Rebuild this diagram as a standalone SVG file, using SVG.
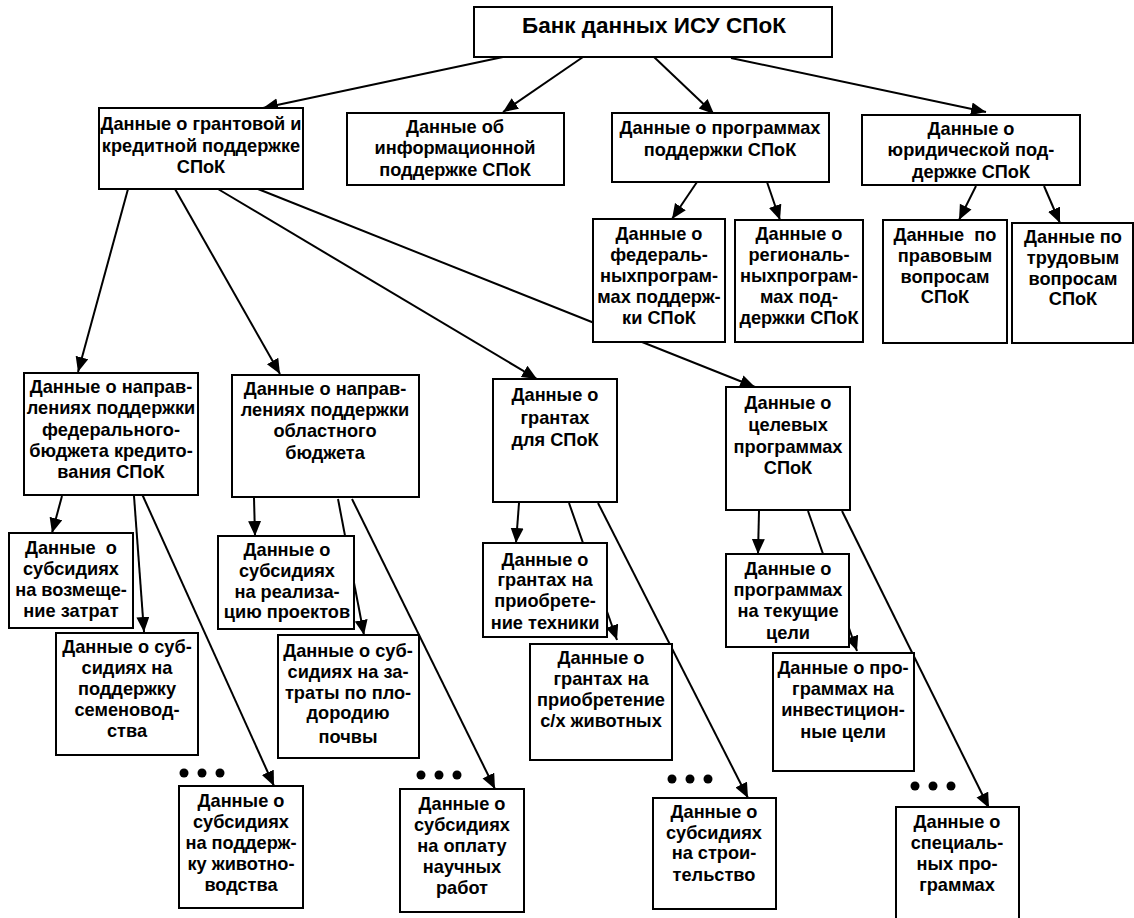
<svg xmlns="http://www.w3.org/2000/svg" width="1134" height="918" viewBox="0 0 1134 918">
<style>
.b{fill:#fff;stroke:#000;stroke-width:2}
.t{font-family:"Liberation Sans",Arial,sans-serif;font-weight:bold;font-size:18.2px;text-anchor:middle;fill:#000}
.h{font-size:22.5px}
.c{stroke:#000;stroke-width:2;fill:none;marker-end:url(#ah)}
.d{fill:#000}
</style>
<defs>
<marker id="ah" markerUnits="userSpaceOnUse" markerWidth="16" markerHeight="14" refX="15" refY="6.5" orient="auto">
<path d="M0,0 L15,6.5 L0,13 z" fill="#000"/>
</marker>
</defs>
<rect width="1134" height="918" fill="#fff"/>
<g id="connectors">
<line class="c" x1="503" y1="57" x2="263" y2="108"/>
<line class="c" x1="583" y1="57" x2="503" y2="112"/>
<line class="c" x1="654" y1="57" x2="714" y2="114"/>
<line class="c" x1="731" y1="58" x2="986" y2="112"/>
<line class="c" x1="697" y1="182" x2="672" y2="219"/>
<line class="c" x1="767" y1="182" x2="780" y2="220"/>
<line class="c" x1="976" y1="186" x2="959" y2="220"/>
<line class="c" x1="1044" y1="186" x2="1060" y2="223"/>
<line class="c" x1="128" y1="189" x2="78" y2="372"/>
<line class="c" x1="175" y1="189" x2="280" y2="374"/>
<line class="c" x1="218" y1="189" x2="537" y2="379"/>
<line class="c" x1="258" y1="189" x2="755" y2="387"/>
<line class="c" x1="62" y1="496" x2="52" y2="533"/>
<line class="c" x1="134" y1="496" x2="144" y2="632"/>
<line class="c" x1="142" y1="494" x2="274" y2="786"/>
<line class="c" x1="254" y1="498" x2="255" y2="536"/>
<line class="c" x1="338" y1="499" x2="364" y2="635"/>
<line class="c" x1="352" y1="499" x2="495" y2="789"/>
<line class="c" x1="519" y1="503" x2="516" y2="543"/>
<line class="c" x1="569" y1="503" x2="617" y2="640"/>
<line class="c" x1="598" y1="503" x2="748" y2="798"/>
<line class="c" x1="759" y1="511" x2="758" y2="554"/>
<line class="c" x1="808" y1="511" x2="857" y2="651"/>
<line class="c" x1="842" y1="511" x2="989" y2="808"/>
</g>
<g id="n_top"><rect class="b" x="474" y="7" width="358" height="50"/><text class="t h" x="654" y="33">Банк данных ИСУ СПоК</text></g>
<g id="n_gram"><rect class="b" x="99" y="108" width="204" height="81"/><text class="t"><tspan x="201" y="130">Данные о грантовой и</tspan><tspan x="201" y="152">кредитной поддержке</tspan><tspan x="201" y="173">СПоК</tspan></text></g>
<g id="n_info"><rect class="b" x="347" y="113" width="217" height="72"/><text class="t"><tspan x="455" y="133">Данные об</tspan><tspan x="455" y="154">информационной</tspan><tspan x="455" y="176">поддержке СПоК</tspan></text></g>
<g id="n_prog"><rect class="b" x="612" y="113" width="217" height="69"/><text class="t"><tspan x="720" y="134">Данные о программах</tspan><tspan x="720" y="156">поддержки СПоК</tspan></text></g>
<g id="n_jur"><rect class="b" x="862" y="115" width="218" height="70"/><text class="t"><tspan x="971" y="135">Данные о</tspan><tspan x="971" y="156">юридической под-</tspan><tspan x="971" y="178">держке СПоК</tspan></text></g>
<g id="n_fedprog"><rect class="b" x="593" y="219" width="132" height="123"/><text class="t"><tspan x="659" y="240">Данные о</tspan><tspan x="659" y="261">федераль-</tspan><tspan x="659" y="282">ныхпрограм-</tspan><tspan x="659" y="303">мах поддерж-</tspan><tspan x="659" y="324">ки СПоК</tspan></text></g>
<g id="n_regprog"><rect class="b" x="735" y="220" width="128" height="122"/><text class="t"><tspan x="799" y="240">Данные о</tspan><tspan x="799" y="261">региональ-</tspan><tspan x="799" y="282">ныхпрограм-</tspan><tspan x="799" y="303">мах под-</tspan><tspan x="799" y="324">держки СПоК</tspan></text></g>
<g id="n_law"><rect class="b" x="883" y="220" width="124" height="123"/><text class="t" style="white-space:pre"><tspan x="945" y="241">Данные  по</tspan><tspan x="945" y="262">правовым</tspan><tspan x="945" y="283">вопросам</tspan><tspan x="945" y="303">СПоК</tspan></text></g>
<g id="n_labor"><rect class="b" x="1012" y="223" width="121" height="120"/><text class="t"><tspan x="1073" y="243">Данные по</tspan><tspan x="1073" y="264">трудовым</tspan><tspan x="1073" y="285">вопросам</tspan><tspan x="1073" y="305">СПоК</tspan></text></g>
<g id="n_fedbud"><rect class="b" x="24" y="373" width="174" height="122"/><text class="t"><tspan x="111" y="393">Данные о направ-</tspan><tspan x="111" y="414">лениях поддержки</tspan><tspan x="111" y="436">федерального-</tspan><tspan x="111" y="457">бюджета кредито-</tspan><tspan x="111" y="478">вания СПоК</tspan></text></g>
<g id="n_obbud"><rect class="b" x="232" y="375" width="187" height="122"/><text class="t"><tspan x="325" y="395">Данные о направ-</tspan><tspan x="325" y="416">лениях поддержки</tspan><tspan x="325" y="437">областного</tspan><tspan x="325" y="459">бюджета</tspan></text></g>
<g id="n_grants"><rect class="b" x="493" y="379" width="124" height="123"/><text class="t"><tspan x="555" y="401">Данные о</tspan><tspan x="555" y="424">грантах</tspan><tspan x="555" y="446">для СПоК</tspan></text></g>
<g id="n_target"><rect class="b" x="726" y="387" width="124" height="123"/><text class="t"><tspan x="788" y="409">Данные о</tspan><tspan x="788" y="431">целевых</tspan><tspan x="788" y="453">программах</tspan><tspan x="788" y="474">СПоК</tspan></text></g>
<g id="n_subs1"><rect class="b" x="9" y="533" width="124" height="95"/><text class="t" style="white-space:pre"><tspan x="71" y="554">Данные  о</tspan><tspan x="71" y="575">субсидиях</tspan><tspan x="71" y="596">на возмеще-</tspan><tspan x="71" y="617">ние затрат</tspan></text></g>
<g id="n_realiz"><rect class="b" x="218" y="536" width="136" height="93"/><text class="t"><tspan x="287" y="556">Данные о</tspan><tspan x="287" y="577">субсидиях</tspan><tspan x="287" y="598">на реализа-</tspan><tspan x="287" y="618">цию проектов</tspan></text></g>
<g id="n_tech"><rect class="b" x="483" y="543" width="124" height="94"/><text class="t"><tspan x="545" y="566">Данные о</tspan><tspan x="545" y="586">грантах на</tspan><tspan x="545" y="607">приобрете-</tspan><tspan x="545" y="629">ние техники</tspan></text></g>
<g id="n_current"><rect class="b" x="726" y="554" width="123" height="93"/><text class="t"><tspan x="788" y="575">Данные о</tspan><tspan x="788" y="596">программах</tspan><tspan x="788" y="617">на текущие</tspan><tspan x="788" y="639">цели</tspan></text></g>
<g id="n_seed"><rect class="b" x="56" y="633" width="142" height="122"/><text class="t"><tspan x="127" y="653">Данные о суб-</tspan><tspan x="127" y="674">сидиях на</tspan><tspan x="127" y="695">поддержку</tspan><tspan x="127" y="716">семеновод-</tspan><tspan x="127" y="737">ства</tspan></text></g>
<g id="n_plodor"><rect class="b" x="278" y="635" width="141" height="123"/><text class="t"><tspan x="348" y="657">Данные о суб-</tspan><tspan x="348" y="678">сидиях на за-</tspan><tspan x="348" y="699">траты по пло-</tspan><tspan x="348" y="719">дородию</tspan><tspan x="348" y="743">почвы</tspan></text></g>
<g id="n_livestock"><rect class="b" x="530" y="644" width="142" height="116"/><text class="t"><tspan x="601" y="664">Данные о</tspan><tspan x="601" y="685">грантах на</tspan><tspan x="601" y="706">приобретение</tspan><tspan x="601" y="727">с/х животных</tspan></text></g>
<g id="n_invest"><rect class="b" x="773" y="653" width="141" height="118"/><text class="t"><tspan x="843" y="674">Данные о про-</tspan><tspan x="843" y="695">граммах на</tspan><tspan x="843" y="716">инвестицион-</tspan><tspan x="843" y="738">ные цели</tspan></text></g>
<g id="n_animal"><rect class="b" x="179" y="786" width="124" height="122"/><text class="t"><tspan x="241" y="807">Данные о</tspan><tspan x="241" y="828">субсидиях</tspan><tspan x="241" y="849">на поддерж-</tspan><tspan x="241" y="870">ку животно-</tspan><tspan x="241" y="891">водства</tspan></text></g>
<g id="n_science"><rect class="b" x="400" y="789" width="124" height="123"/><text class="t"><tspan x="462" y="810">Данные о</tspan><tspan x="462" y="831">субсидиях</tspan><tspan x="462" y="852">на оплату</tspan><tspan x="462" y="873">научных</tspan><tspan x="462" y="894">работ</tspan></text></g>
<g id="n_stroit"><rect class="b" x="653" y="798" width="123" height="111"/><text class="t"><tspan x="714" y="818">Данные о</tspan><tspan x="714" y="839">субсидиях</tspan><tspan x="714" y="859">на строи-</tspan><tspan x="714" y="881">тельство</tspan></text></g>
<g id="n_special"><rect class="b" x="896" y="807" width="123" height="125"/><text class="t"><tspan x="957" y="828">Данные о</tspan><tspan x="957" y="849">специаль-</tspan><tspan x="957" y="870">ных про-</tspan><tspan x="957" y="891">граммах</tspan></text></g>
<g id="ellipses">
<circle class="d" cx="184" cy="773" r="4.5"/><circle class="d" cx="202" cy="773" r="4.5"/><circle class="d" cx="220" cy="773" r="4.5"/>
<circle class="d" cx="421" cy="775" r="4.5"/><circle class="d" cx="439" cy="775" r="4.5"/><circle class="d" cx="457" cy="775" r="4.5"/>
<circle class="d" cx="672" cy="779" r="4.5"/><circle class="d" cx="690" cy="779" r="4.5"/><circle class="d" cx="708" cy="779" r="4.5"/>
<circle class="d" cx="915" cy="786" r="4.5"/><circle class="d" cx="933" cy="786" r="4.5"/><circle class="d" cx="951" cy="786" r="4.5"/>
</g>
</svg>
